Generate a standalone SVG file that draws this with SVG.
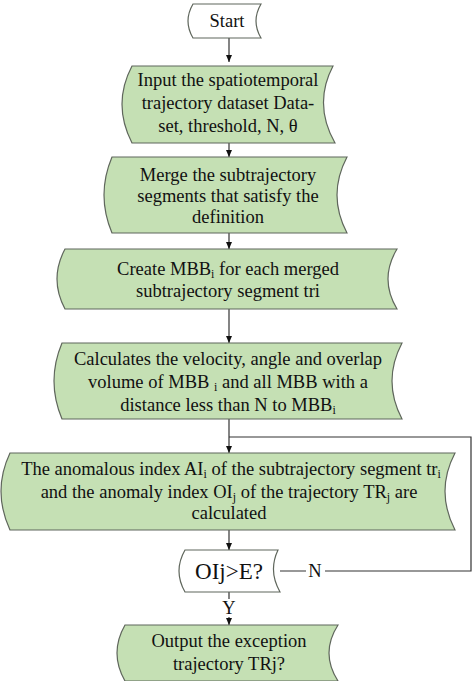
<svg xmlns="http://www.w3.org/2000/svg" width="474" height="681" viewBox="0 0 474 681">
<style>
.box{fill:#c5e0b4;stroke:#5f665c;stroke-width:1.2}
.wbox{fill:#fff;stroke:#5f665c;stroke-width:1.2}
.t text{font-size:18.5px;fill:#111;text-anchor:middle}
.t .big{font-size:23px}
.t .sub{font-size:12px}
.ln{fill:none;stroke:#333;stroke-width:1.2}
</style>
<defs>
<marker id="ah" markerWidth="8" markerHeight="8" refX="7" refY="4" orient="auto" markerUnits="userSpaceOnUse">
<path d="M0,1 L7,4 L0,7 Z" fill="#111"/>
</marker>
</defs>
<rect width="474" height="681" fill="#fff"/>
<g class="t" font-family="'Liberation Serif', 'Times New Roman', 'DejaVu Serif', serif">
<g id="connectors">
<path class="ln" d="M229,38 V62" marker-end="url(#ah)"/>
<path class="ln" d="M229,143 V157" marker-end="url(#ah)"/>
<path class="ln" d="M229,233 V249" marker-end="url(#ah)"/>
<path class="ln" d="M229,309 V343" marker-end="url(#ah)"/>
<path class="ln" d="M229,419 V453" marker-end="url(#ah)"/>
<path class="ln" d="M229,530 V550" marker-end="url(#ah)"/>
<path class="ln" d="M229,592 V599 M229,617 V625" marker-end="url(#ah)"/>
<path class="ln" d="M280,571 H306 M325,571 H471 V437 H229"/>
<text x="229" y="614">Y</text>
<text x="315" y="577">N</text>
</g>
<g id="start">
<path class="wbox" d="M193,4 H261 Q251,21 261,38 H193 Q183,21 193,4 Z"/>
<text x="227" y="27">Start</text>
</g>
<g id="input">
<path class="box" d="M132,66 H333 Q313,104 335,143 H132 Q112,104 132,66 Z"/>
<text x="228" y="86">Input the spatiotemporal</text>
<text x="228" y="109">trajectory dataset Data-</text>
<text x="228" y="132">set, threshold, N, θ</text>
</g>
<g id="merge">
<path class="box" d="M112,157 H347 Q327,195 347,233 H112 Q96,195 112,157 Z"/>
<text x="228" y="181">Merge the subtrajectory</text>
<text x="228" y="202">segments that satisfy the</text>
<text x="228" y="223">definition</text>
</g>
<g id="create">
<path class="box" d="M65,249 H397 Q379,279 397,309 H65 Q49,279 65,249 Z"/>
<text x="228" y="275">Create MBB<tspan class="sub" dy="3">i</tspan><tspan dy="-3"> for each merged</tspan></text>
<text x="228" y="297">subtrajectory segment tri</text>
</g>
<g id="calc">
<path class="box" d="M62,343 H402 Q382,381 402,419 H62 Q46,381 62,343 Z"/>
<text x="228" y="365">Calculates the velocity, angle and overlap</text>
<text x="228" y="388">volume of MBB <tspan class="sub" dy="3">i</tspan><tspan dy="-3"> and all MBB with a</tspan></text>
<text x="228" y="411">distance less than N to MBB<tspan class="sub" dy="3">i</tspan></text>
</g>
<g id="anomaly">
<path class="box" d="M10,453 H455 Q435,491 455,530 H10 Q-8,491 10,453 Z"/>
<text x="231" y="475">The anomalous index AI<tspan class="sub" dy="3">i</tspan><tspan dy="-3"> of the subtrajectory segment tr</tspan><tspan class="sub" dy="3">i</tspan></text>
<text x="229" y="498">and the anomaly index OI<tspan class="sub" dy="3">j</tspan><tspan dy="-3"> of the trajectory TR</tspan><tspan class="sub" dy="3">j</tspan><tspan dy="-3"> are</tspan></text>
<text x="229" y="519">calculated</text>
</g>
<g id="decision">
<path class="wbox" d="M185,550 H278 Q268,571 280,592 H185 Q173,571 185,550 Z"/>
<text class="big" x="229" y="579">OIj&gt;E?</text>
</g>
<g id="output">
<path class="box" d="M125,625 H338 Q320,653 338,681 H125 Q109,653 125,625 Z"/>
<text x="229" y="647">Output the exception</text>
<text x="229" y="670">trajectory TRj?</text>
</g>
</g>
</svg>
